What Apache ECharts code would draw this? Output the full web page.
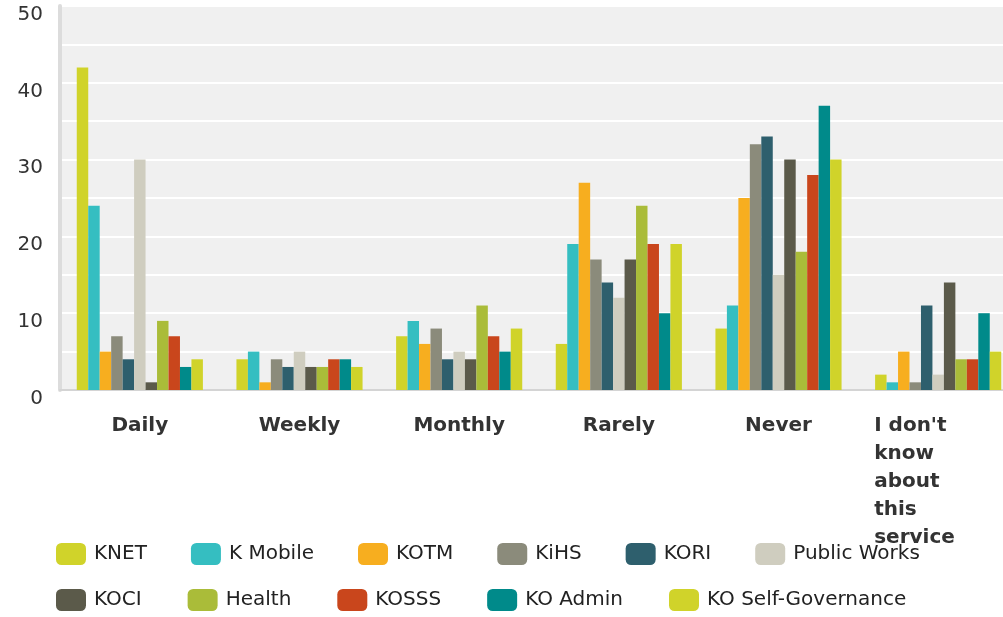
<!DOCTYPE html>
<html style="height: 100%">
<head>
    <meta charset="utf-8">
</head>
<body style="height: 100%; margin: 0; background: #fff">
<div id="container" style="width: 1003px; height: 617px"></div>
<script src="https://cdn.jsdelivr.net/npm/echarts@6/dist/echarts.min.js"></script>
<script type="text/javascript">
    // categories + series
    var categories = ['Daily', 'Weekly', 'Monthly', 'Rarely', 'Never', "I don't know about this service"];
    var seriesNames = ['KNET', 'K Mobile', 'KOTM', 'KiHS', 'KORI', 'Public Works',
        'KOCI', 'Health', 'KOSSS', 'KO Admin', 'KO Self-Governance'];
    var colors = ['#d0d32a', '#35bec1', '#f7ae1f', '#8b8b7b', '#2e5f6d', '#cfcdbf',
        '#5b5a4a', '#aabc39', '#c9461c', '#008a8a', '#d0d32a'];

    var knet = [42, 4, 7, 6, 8, 2];
    var kMobile = [24, 5, 9, 19, 11, 1];
    var kotm = [5, 1, 6, 27, 25, 5];
    var kihs = [7, 4, 8, 17, 32, 1];
    var kori = [4, 3, 4, 14, 33, 11];
    var publicWorks = [30, 5, 5, 12, 15, 2];
    var koci = [1, 3, 4, 17, 30, 14];
    var health = [9, 3, 11, 24, 18, 4];
    var kosss = [7, 4, 7, 19, 28, 4];
    var koAdmin = [3, 4, 5, 10, 37, 10];
    var koSelfGov = [4, 3, 8, 19, 30, 5];

    var values = [knet, kMobile, kotm, kihs, kori, publicWorks, koci, health, kosss, koAdmin, koSelfGov];

    var font = 'DejaVu Sans';

    var series = [];
    for (var i = 0; i < seriesNames.length; i++) {
        series.push({
            name: seriesNames[i],
            type: 'bar',
            data: values[i],
            barGap: 0,
            barCategoryGap: '21%',
            itemStyle: {color: colors[i]}
        });
    }

    var legendBase = {
        orient: 'horizontal',
        left: 51,
        itemWidth: 30,
        itemHeight: 22,
        icon: 'roundRect',
        textStyle: {fontFamily: font, fontSize: 20, color: '#222', padding: [0, 0, 0, 3]}
    };

    var dom = document.getElementById("container");
    var myChart = echarts.init(dom);
    var option = {
        animation: false,
        backgroundColor: '#fff',
        grid: {
            left: 60,
            width: 958,
            top: 6,
            bottom: 227,
            outerBoundsMode: 'none',
            containLabel: false,
            show: true,
            backgroundColor: '#f0f0f0',
            borderWidth: 0
        },
        // two legend rows, the original text is a bit letter-spaced so gaps differ per row
        legend: [
            Object.assign({}, legendBase, {top: 538, itemGap: 44, data: seriesNames.slice(0, 6)}),
            Object.assign({}, legendBase, {top: 584, itemGap: 46, data: seriesNames.slice(6)})
        ],
        xAxis: {
            type: 'category',
            data: categories,
            axisTick: {show: false},
            axisLine: {lineStyle: {color: '#d4d4d4', width: 2}},
            axisLabel: {
                interval: 0,
                margin: 22,
                fontFamily: font,
                fontSize: 20,
                fontWeight: 'bold',
                lineHeight: 28,
                color: '#333',
                formatter: function (v) {
                    if (v.indexOf('know') < 0) return v;
                    // one word per line, left aligned
                    var lines = ["I don't", 'know', 'about', 'this', 'service'];
                    return lines.map(function (s) { return '{l|' + s + '}'; }).join('\n');
                },
                rich: {
                    l: {
                        width: 128, align: 'left', fontFamily: font, fontSize: 20,
                        fontWeight: 'bold', lineHeight: 28, color: '#333'
                    }
                }
            }
        },
        yAxis: {
            type: 'value',
            min: 0,
            max: 50,
            interval: 5,
            axisTick: {show: false},
            axisLine: {show: true, lineStyle: {color: '#dcdcdc', width: 4}},
            splitLine: {lineStyle: {color: '#fff', width: 2}},
            axisLabel: {
                margin: 17,
                fontFamily: font,
                fontSize: 20,
                color: '#333',
                verticalAlign: 'top',
                lineHeight: 17,
                formatter: function (v) { return v % 10 === 0 ? v : ''; }
            }
        },
        series: series
    };
    myChart.setOption(option);
</script>
</body>
</html>
